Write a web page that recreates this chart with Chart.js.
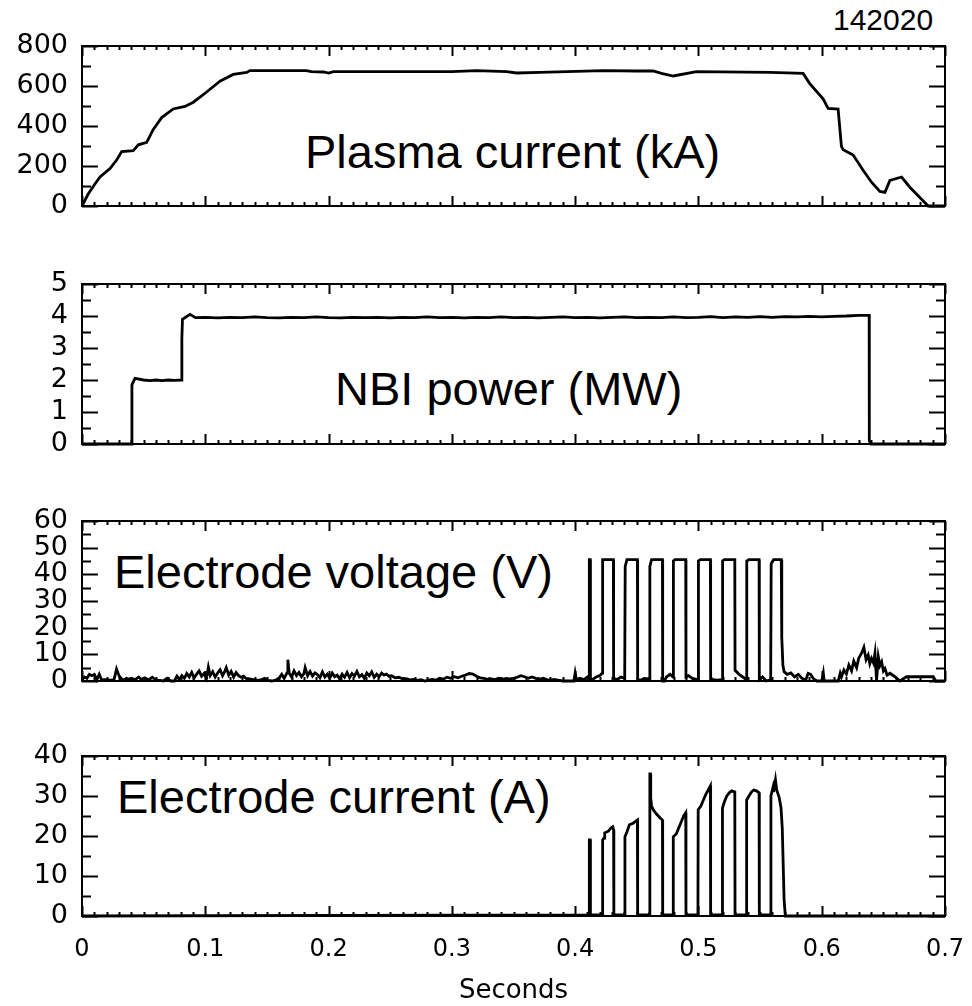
<!DOCTYPE html>
<html>
<head>
<meta charset="utf-8">
<title>142020</title>
<script src="https://cdn.jsdelivr.net/npm/chart.js@4"></script>
<style>
  body { margin: 0; background: #fff; width: 972px; height: 1006px; position: relative; overflow: hidden;
         font-family: "Liberation Sans", Arial, sans-serif; }
  canvas { position: absolute; left: 0; }
  .label { position: absolute; font-size: 47px; line-height: 1; color: #000; white-space: nowrap; }
</style>
</head>
<body>
<div class="label" style="left:833px;top:5px;font-size:30px;">142020</div>
<div class="label" style="left:305px;top:128px;">Plasma current (kA)</div>
<div class="label" style="left:335px;top:365px;">NBI power (MW)</div>
<div class="label" style="left:114px;top:548px;">Electrode voltage (V)</div>
<div class="label" style="left:117px;top:773px;">Electrode current (A)</div>

<canvas id="ip" width="972" height="190" style="top:26px"></canvas>
<canvas id="nbi" width="972" height="190" style="top:264px"></canvas>
<canvas id="volt" width="972" height="190" style="top:501px"></canvas>
<canvas id="cur" width="972" height="270" style="top:736px"></canvas>

<script>
// shared time axis (seconds)
const xTicks = [0, 0.1, 0.2, 0.3, 0.4, 0.5, 0.6, 0.7];

// plasma current (kA)
const ipTicks = [0, 200, 400, 600, 800];
const ipTime = [0, 0.005, 0.0105, 0.0146, 0.0227, 0.0281, 0.0322, 0.0416, 0.0457, 0.0525, 0.0578, 0.0646,
  0.074, 0.0835, 0.0903, 0.1011, 0.1119, 0.1227, 0.1336, 0.1362, 0.182, 0.186, 0.196, 0.2, 0.204, 0.24,
  0.3, 0.32, 0.3444, 0.3525, 0.3714, 0.4228, 0.4498, 0.4633, 0.47, 0.4796, 0.4984, 0.5579, 0.5849,
  0.5903, 0.6011, 0.6052, 0.6133, 0.616, 0.6174, 0.6255, 0.6336, 0.6404, 0.6472, 0.6513, 0.6553,
  0.6648, 0.6715, 0.6796, 0.6863, 0.7];
const ipKA = [0, 60, 110, 145, 187, 230, 272, 277, 306, 318, 383, 442,
  485, 498, 519, 570, 624, 658, 668, 677, 677, 672, 670, 665, 672, 672,
  672, 677, 672, 665, 668, 677, 675, 675, 663, 650, 672, 668, 663,
  612, 536, 488, 485, 298, 281, 255, 179, 119, 73, 68, 128,
  145, 94, 43, 0, 0];

// NBI power (MW)
const nbiTicks = [0, 1, 2, 3, 4, 5];
const nbiTime = [0, 0.0403, 0.0405, 0.043, 0.05, 0.055, 0.06, 0.065, 0.07, 0.075, 0.0808, 0.081, 0.0815,
  0.0876, 0.092, 0.1, 0.11, 0.12, 0.13, 0.14, 0.15, 0.16, 0.17, 0.18, 0.19, 0.2, 0.21, 0.22, 0.23, 0.24,
  0.25, 0.26, 0.27, 0.28, 0.29, 0.3, 0.31, 0.32, 0.33, 0.34, 0.35, 0.36, 0.37, 0.38, 0.39, 0.4, 0.41,
  0.42, 0.43, 0.44, 0.45, 0.46, 0.47, 0.48, 0.49, 0.5, 0.51, 0.52, 0.53, 0.54, 0.55, 0.56, 0.57, 0.58,
  0.59, 0.6, 0.61, 0.62, 0.63, 0.6385, 0.6386, 0.64, 0.7];
const nbiMW = [0, 0, 1.85, 2.05, 2.0, 1.98, 2.0, 1.98, 2.0, 1.99, 2.0, 3.3, 3.9,
  4.05, 3.95, 3.96, 3.94, 3.96, 3.95, 3.97, 3.95, 3.94, 3.96, 3.95, 3.97, 3.95, 3.94, 3.96, 3.95, 3.96,
  3.94, 3.96, 3.95, 3.97, 3.95, 3.96, 3.94, 3.96, 3.95, 3.97, 3.95, 3.96, 3.94, 3.96, 3.97, 3.95, 3.96,
  3.94, 3.96, 3.97, 3.95, 3.96, 3.95, 3.97, 3.95, 3.96, 3.98, 3.95, 3.97, 3.96, 3.98, 3.96, 3.98, 3.97,
  3.99, 3.97, 3.99, 4.0, 4.02, 4.02, 0.1, 0, 0];

// electrode voltage (V)
const voltTicks = [0, 10, 20, 30, 40, 50, 60];
const voltTime = [0, 0.002, 0.004, 0.006, 0.008, 0.010, 0.012, 0.014, 0.016, 0.018, 0.020, 0.022, 0.024,
  0.026, 0.028, 0.030, 0.032, 0.034, 0.036, 0.038, 0.040, 0.043, 0.046, 0.048, 0.051, 0.054, 0.057,
  0.060, 0.063, 0.066, 0.069, 0.072, 0.075, 0.077, 0.079, 0.081, 0.083, 0.085, 0.087, 0.089, 0.091,
  0.093, 0.095, 0.097, 0.099, 0.101, 0.1025, 0.104, 0.106, 0.108, 0.110, 0.112, 0.114, 0.116, 0.117,
  0.119, 0.121, 0.123, 0.125, 0.127, 0.129, 0.131, 0.133, 0.136, 0.139, 0.142, 0.145, 0.148, 0.151,
  0.154, 0.157, 0.160, 0.162, 0.164, 0.1665, 0.167, 0.168, 0.170, 0.172, 0.174, 0.176, 0.178, 0.180,
  0.181, 0.183, 0.185, 0.187, 0.189, 0.191, 0.193, 0.195, 0.197, 0.199, 0.201, 0.203, 0.205, 0.207,
  0.209, 0.211, 0.213, 0.215, 0.217, 0.219, 0.221, 0.223, 0.225, 0.227, 0.229, 0.231, 0.233, 0.235,
  0.237, 0.239, 0.241, 0.243, 0.245, 0.247, 0.249, 0.251, 0.254, 0.257, 0.260, 0.263, 0.266, 0.269,
  0.272, 0.275, 0.278, 0.281, 0.284, 0.287, 0.290, 0.293, 0.296, 0.299, 0.302, 0.305, 0.308, 0.311,
  0.314, 0.317, 0.320, 0.323, 0.326, 0.329, 0.332, 0.335, 0.338, 0.341, 0.344, 0.347, 0.350, 0.353,
  0.356, 0.359, 0.362, 0.365, 0.368, 0.371, 0.374, 0.377, 0.380, 0.383, 0.386, 0.390, 0.395, 0.399,
  0.400, 0.401, 0.404, 0.407, 0.410,
  0.4113, 0.4115, 0.4122, 0.4124, 0.414, 0.417, 0.420,
  0.4221, 0.4223, 0.431, 0.4312, 0.434, 0.437, 0.4402,
  0.4404, 0.4406, 0.442, 0.4505, 0.4507, 0.453, 0.456, 0.4603,
  0.4605, 0.4607, 0.462, 0.4708, 0.471, 0.4725, 0.474, 0.477, 0.4794,
  0.4796, 0.4798, 0.481, 0.4897, 0.4899, 0.492, 0.495, 0.4996,
  0.4998, 0.5, 0.5015, 0.5097, 0.5099, 0.512, 0.515, 0.5193,
  0.5195, 0.5197, 0.521, 0.5295, 0.5297, 0.533, 0.536, 0.5389,
  0.5391, 0.5393, 0.541, 0.5492, 0.5494, 0.552, 0.555, 0.5586,
  0.5588, 0.559, 0.561, 0.5672, 0.5676, 0.5685, 0.5695, 0.572, 0.575, 0.578, 0.581, 0.584, 0.587,
  0.589, 0.591, 0.593, 0.596, 0.600, 0.6013, 0.602, 0.610, 0.6134,
  0.615, 0.616, 0.618, 0.620, 0.622, 0.6242, 0.626, 0.6283, 0.630, 0.6323, 0.6342, 0.636, 0.6377,
  0.639, 0.6404, 0.642, 0.6432, 0.6445, 0.6459, 0.6472, 0.6486, 0.650, 0.6513, 0.653, 0.6553, 0.6594,
  0.6634, 0.6688, 0.6905, 0.6925, 0.7];
const voltV = [0.5, 1.5, 1.0, 2.5, 2.0, 2.5, 0.5, 2.5, 0.3, 0.5, 0.5, 0.3, 0.3,
  0.5, 4.5, 2.0, 0.8, 0.3, 1.0, 0.6, 1.0, 0.5, 1.5, 0.6, 1.2, 0.4, 1.4,
  0.3, 0.2, 0.0, 1.0, 0.0, 0.0, 1.8, 0.5, 2.0, 1.0, 2.8, 1.5, 3.2, 1.2,
  2.6, 3.8, 1.8, 2.8, 1.0, 5.2, 2.0, 3.5, 1.5, 3.0, 4.2, 2.0, 3.8, 5.0,
  2.2, 3.6, 1.5, 3.2, 2.0, 1.4, 1.8, 1.0, 0.8, 0.5, 0.2, 0.4, 1.0, 0.2,
  0.0, 0.3, 1.2, 2.5, 1.0, 3.2, 8.0, 3.0, 1.5, 3.8, 2.0, 3.2, 1.6, 2.8,
  5.0, 2.0, 3.6, 1.8, 3.0, 2.4, 1.2, 3.4, 1.5, 2.6, 1.0, 3.0, 1.6, 2.2,
  0.8, 2.6, 1.4, 3.2, 1.2, 2.8, 1.8, 3.6, 1.6, 2.4, 1.0, 3.0, 2.0, 3.4,
  1.4, 2.6, 1.6, 3.0, 2.2, 2.6, 1.8, 2.0, 1.2, 1.4, 0.8, 0.9, 0.4, 0.6,
  0.2, 0.5, 0.0, 0.3, 0.6, 0.3, 1.0, 0.7, 1.4, 1.0, 1.6, 1.2, 1.8, 2.2,
  2.8, 2.6, 1.8, 1.2, 1.0, 0.6, 0.8, 0.5, 1.0, 0.6, 1.0, 0.8, 1.0, 1.4,
  2.0, 1.6, 1.0, 1.5, 1.0, 0.6, 1.0, 0.5, 0.2, 0.6, 0.3, 0.0, 0.0, 0.0,
  3.0, 0.5, 1.0, 0.5, 1.5,
  0.5, 45.5, 45.5, 1.0, 0.5, 1.5, 2.0,
  3.0, 45.5, 45.5, 1.0, 0.5, 1.5, 1.0,
  1.0, 43.0, 45.5, 45.5, 0.5, 0.3, 1.0, 0.8,
  0.8, 43.0, 45.5, 45.5, 0.0, 0.0, 1.5, 2.5, 1.5,
  1.5, 45.0, 45.5, 45.5, 1.5, 2.0, 1.0, 0.5,
  0.5, 45.0, 45.5, 45.5, 0.3, 0.5, 0.3, 0.5,
  0.5, 45.0, 45.5, 45.5, 4.0, 2.5, 1.5, 0.5,
  0.5, 45.0, 45.5, 45.5, 0.5, 1.5, 0.0, 0.5,
  0.5, 44.0, 45.5, 45.5, 16.5, 6.0, 3.5, 2.5, 3.0, 1.5, 2.5, 1.0, 0.3,
  2.9, 2.5, 1.0, 0.0, 0.0, 3.0, 0.0, 0.0, 0.0,
  2.9, 1.5, 4.1, 2.6, 6.0, 3.8, 7.5, 5.0, 8.5, 10.4, 12.6, 8.0, 9.7,
  6.5, 8.5, 6.8, 10.5, 0.0, 9.1, 5.8, 7.2, 3.8, 4.7, 2.2, 2.9, 1.6,
  0.0, 1.6, 1.6, 0.0, 0.0];

// electrode current (A)
const curTicks = [0, 10, 20, 30, 40];
const curTime = [0, 0.4113,
  0.4115, 0.4122, 0.4124, 0.4221,
  0.4223, 0.4235, 0.424, 0.427, 0.429, 0.4305, 0.4312, 0.4314, 0.4402,
  0.4404, 0.442, 0.444, 0.447, 0.4505, 0.4507, 0.4604,
  0.4606, 0.4611, 0.4613, 0.462, 0.4635, 0.466, 0.469, 0.4708, 0.471, 0.4794,
  0.4796, 0.482, 0.484, 0.486, 0.488, 0.4897, 0.4899, 0.4996,
  0.4998, 0.502, 0.504, 0.506, 0.508, 0.5097, 0.5099, 0.5193,
  0.5195, 0.521, 0.523, 0.525, 0.527, 0.5295, 0.5297, 0.5389,
  0.5391, 0.541, 0.543, 0.545, 0.547, 0.5492, 0.5494, 0.5586,
  0.5588, 0.5605, 0.561, 0.5625, 0.5635, 0.5655, 0.567, 0.568, 0.5695, 0.5705, 0.7];
const curA = [0, 0.3,
  19.0, 19.0, 0.3, 0.3,
  19.0, 19.5, 20.8, 21.2, 22.0, 22.3, 21.5, 0.3, 0.3,
  19.8, 21.0, 22.8, 23.2, 24.0, 0.3, 0.3,
  35.5, 35.5, 29.5, 27.5, 26.5, 25.5, 24.5, 24.0, 0.3, 0.3,
  19.8, 20.5, 22.0, 23.5, 25.0, 25.8, 0.3, 0.3,
  26.6, 27.5, 29.0, 30.4, 31.5, 32.5, 0.3, 0.3,
  27.0, 28.5, 30.0, 30.8, 31.3, 31.0, 0.3, 0.3,
  29.0, 30.0, 31.0, 31.5, 31.3, 30.8, 0.3, 0.3,
  30.0, 32.2, 31.0, 34.0, 31.5, 29.6, 27.0, 22.0, 4.0, 0.0, 0.0];

const zip = (xs, ys) => xs.map((x, i) => ({ x: x, y: ys[i] }));

// IDL-style box with inward major/minor ticks on all four sides
const idlBox = {
  id: 'idlBox',
  afterDatasetsDraw(chart, args, opts) {
    const { ctx, chartArea: a, scales } = chart;
    const xs = scales.x, ys = scales.y;
    ctx.save();
    ctx.strokeStyle = '#000';
    ctx.lineWidth = 2;
    ctx.strokeRect(a.left, a.top, a.right - a.left, a.bottom - a.top);
    ctx.beginPath();
    for (let i = 0; i <= 70; i++) {
      const px = Math.round(xs.getPixelForValue(i / 100)) + 0.5;
      const len = i % 10 === 0 ? 10 : 4;
      ctx.moveTo(px, a.bottom); ctx.lineTo(px, a.bottom - len);
      ctx.moveTo(px, a.top); ctx.lineTo(px, a.top + len);
    }
    const yt = opts.ticks;
    for (let i = 0; i < yt.length; i++) {
      const py = Math.round(ys.getPixelForValue(yt[i])) + 0.5;
      ctx.moveTo(a.left, py); ctx.lineTo(a.left + 16, py);
      ctx.moveTo(a.right, py); ctx.lineTo(a.right - 16, py);
      if (i < yt.length - 1) {
        const pm = Math.round(ys.getPixelForValue((yt[i] + yt[i + 1]) / 2)) + 0.5;
        ctx.moveTo(a.left, pm); ctx.lineTo(a.left + 9, pm);
        ctx.moveTo(a.right, pm); ctx.lineTo(a.right - 9, pm);
      }
    }
    ctx.stroke();
    ctx.restore();
  }
};

function makePanel(id, times, values, yTicks, bottomAxis) {
  const yMax = yTicks[yTicks.length - 1];
  new Chart(document.getElementById(id), {
    type: 'line',
    data: {
      datasets: [{
        data: zip(times, values),
        borderColor: '#000',
        borderWidth: 2.8,
        pointRadius: 0,
        tension: 0,
        fill: false,
        clip: 4
      }]
    },
    options: {
      responsive: false,
      animation: false,
      events: [],
      layout: { padding: { left: 0, right: 27, top: 20, bottom: bottomAxis ? 0 : 10 } },
      plugins: {
        legend: { display: false },
        tooltip: { enabled: false },
        idlBox: { ticks: yTicks }
      },
      scales: {
        x: {
          type: 'linear',
          min: 0,
          max: 0.7,
          display: bottomAxis,
          afterBuildTicks: s => { s.ticks = xTicks.map(v => ({ value: v })); },
          afterFit: s => {
            s.paddingLeft = 0;
            s.paddingRight = 0;
            if (bottomAxis) s.height = 90;
          },
          grid: { display: false, drawTicks: false },
          border: { display: false },
          ticks: {
            autoSkip: false,
            maxRotation: 0,
            padding: 19,
            color: '#000',
            font: { family: '"DejaVu Sans"', size: 24 },
            callback: v => String(v)
          },
          title: {
            display: true,
            text: 'Seconds',
            color: '#000',
            font: { family: '"DejaVu Sans"', size: 26, lineHeight: 1 },
            padding: { top: 0, bottom: 2 }
          }
        },
        y: {
          type: 'linear',
          min: 0,
          max: yMax,
          afterBuildTicks: s => { s.ticks = yTicks.map(v => ({ value: v })); },
          afterFit: s => {
            s.width = 82;
            s.paddingTop = 0;
            s.paddingBottom = 0;
          },
          grid: { display: false, drawTicks: false },
          border: { display: false },
          ticks: {
            autoSkip: false,
            padding: 14,
            color: '#000',
            font: { family: '"DejaVu Sans"', size: 27 },
            callback: v => String(v)
          }
        }
      }
    },
    plugins: [idlBox]
  });
}

makePanel('ip', ipTime, ipKA, ipTicks, false);
makePanel('nbi', nbiTime, nbiMW, nbiTicks, false);
makePanel('volt', voltTime, voltV, voltTicks, false);
makePanel('cur', curTime, curA, curTicks, true);
</script>
</body>
</html>
